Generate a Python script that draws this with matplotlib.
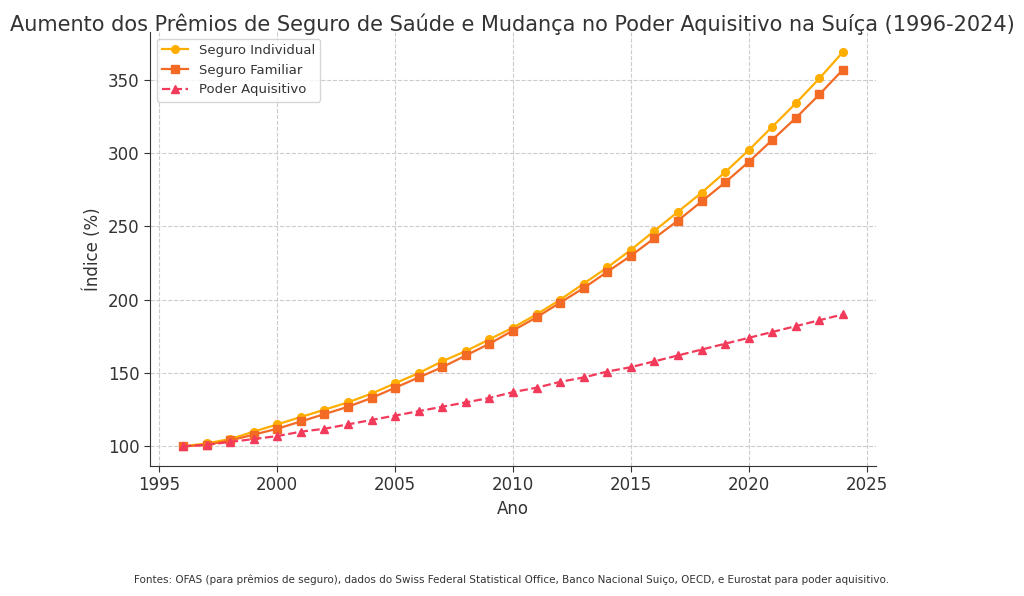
import matplotlib
matplotlib.use("Agg")
import matplotlib.pyplot as plt

years = list(range(1996, 2025))
seguro_individual = [100, 102, 105, 110, 115, 120, 125, 130, 136, 143, 150, 158, 165, 173,
                     181, 190, 200, 211, 222, 234, 247, 260, 273, 287, 302, 318, 334, 351, 369]
seguro_familiar = [100, 101, 104, 108, 112, 117, 122, 127, 133, 140, 147, 154, 162, 170,
                   179, 188, 198, 208, 219, 230, 242, 254, 267, 280, 294, 309, 324, 340, 357]
poder_aquisitivo = [100, 101, 103, 105, 107, 110, 112, 115, 118, 121, 124, 127, 130, 133,
                    137, 140, 144, 147, 151, 154, 158, 162, 166, 170, 174, 178, 182, 186, 190]

TEXT = "#333333"
plt.rcParams.update({
    "font.family": ["DejaVu Sans"],
    "text.color": TEXT,
    "axes.labelcolor": TEXT,
    "xtick.color": TEXT,
    "ytick.color": TEXT,
    "axes.edgecolor": "#333333",
})

fig = plt.figure(figsize=(10.24, 5.96), dpi=100)
ax = fig.add_axes([0.1465, 0.218, 0.709, 0.728])

ax.plot(years, seguro_individual, "-o", color="#FFAE00", lw=1.6, ms=5.5,
        label="Seguro Individual")
ax.plot(years, seguro_familiar, "-s", color="#F26A24", lw=1.6, ms=5.5,
        label="Seguro Familiar")
ax.plot(years, poder_aquisitivo, "--^", color="#F23A5A", lw=1.6, ms=5.5,
        label="Poder Aquisitivo")

ax.set_xlabel("Ano", fontsize=12)
ax.set_ylabel("Índice (%)", fontsize=12)
ax.tick_params(labelsize=12, length=4)
ax.set_xticks([1995, 2000, 2005, 2010, 2015, 2020, 2025])
ax.grid(True, ls="--", color="#cccccc", lw=0.8)
ax.set_axisbelow(True)
for s in ("top", "right"):
    ax.spines[s].set_visible(False)

ax.legend(loc="upper left", fontsize=9.5, framealpha=0.8, edgecolor="#cccccc")

fig.text(0.5, 0.978, "Aumento dos Prêmios de Seguro de Saúde e Mudança no Poder Aquisitivo na Suíça (1996-2024)",
         ha="center", va="top", fontsize=15, color=TEXT)
fig.text(0.5, 0.027, "Fontes: OFAS (para prêmios de seguro), dados do Swiss Federal Statistical Office, "
         "Banco Nacional Suiço, OECD, e Eurostat para poder aquisitivo.",
         ha="center", va="center", fontsize=7.5, color=TEXT)

fig.savefig("out.png", dpi=100)
